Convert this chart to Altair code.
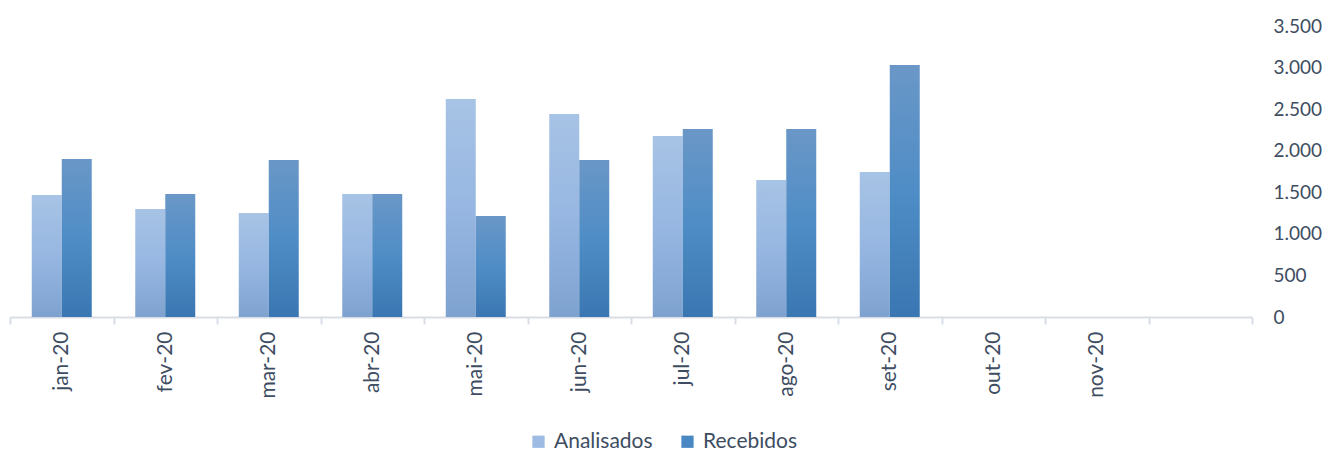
import altair as alt
import pandas as pd

months = ["jan-20", "fev-20", "mar-20", "abr-20", "mai-20", "jun-20",
          "jul-20", "ago-20", "set-20", "out-20", "nov-20", ""]
series = ["Analisados", "Recebidos"]
analisados = [1467, 1299, 1251, 1480, 2622, 2442, 2177, 1648, 1744]
recebidos = [1900, 1479, 1888, 1480, 1215, 1888, 2261, 2261, 3031]
y_ticks = [0, 500, 1000, 1500, 2000, 2500, 3000, 3500]

rows = []
for m, a, r in zip(months, analisados, recebidos):
    rows.append({"month": m, "series": "Analisados", "value": a})
    rows.append({"month": m, "series": "Recebidos", "value": r})
df = pd.DataFrame(rows)

FONT = "Lato"
TXT = "#3e4d62"
AXC = "#d9dee6"

x_enc = alt.X(
    "month:N",
    sort=months,
    scale=alt.Scale(domain=months, paddingInner=0, paddingOuter=0),
    axis=alt.Axis(
        title=None, labelAngle=-90, labelFontSize=21, labelColor=TXT, labelFont=FONT,
        domainColor=AXC, domainWidth=2, tickColor=AXC, tickWidth=2, tickSize=7,
        tickBand="extent", labelPadding=7, grid=False,
    ),
)
xoff_enc = alt.XOffset(
    "series:N",
    scale=alt.Scale(domain=series, paddingInner=0, paddingOuter=0.725),
)
y_enc = alt.Y(
    "value:Q",
    scale=alt.Scale(domain=[0, 3500], nice=False),
    axis=alt.Axis(
        title=None, orient="right", values=y_ticks, ticks=False, domain=False, grid=False,
        labelAlign="left", labelPadding=21, labelFontSize=19, labelColor=TXT, labelFont=FONT,
        labelExpr="replace(format(datum.value, ','), ',', '.')",
    ),
)

base = alt.Chart(df).encode(x=x_enc, xOffset=xoff_enc, y=y_enc)

grad_a = alt.Gradient(
    gradient="linear", x1=0, x2=0, y1=0, y2=1,
    stops=[alt.GradientStop(color="#a7c3e5", offset=0),
           alt.GradientStop(color="#97b7e2", offset=0.5),
           alt.GradientStop(color="#7ea2cf", offset=1)],
)
grad_r = alt.Gradient(
    gradient="linear", x1=0, x2=0, y1=0, y2=1,
    stops=[alt.GradientStop(color="#6a97c7", offset=0),
           alt.GradientStop(color="#4f8dc6", offset=0.5),
           alt.GradientStop(color="#3a77b2", offset=1)],
)

bars_a = base.transform_filter(alt.datum.series == "Analisados").mark_bar(color=grad_a)
bars_r = base.transform_filter(alt.datum.series == "Recebidos").mark_bar(color=grad_r)

legend_layer = base.mark_point(shape="square", filled=True, size=0).encode(
    color=alt.Color(
        "series:N",
        scale=alt.Scale(domain=series, range=["#9dbbe3", "#4a88c4"]),
        legend=alt.Legend(
            title=None, orient="none", direction="horizontal", legendX=518, legendY=405,
            symbolType="square", symbolSize=150, symbolStrokeWidth=0, symbolOpacity=1,
            labelFontSize=21, labelColor=TXT, labelFont=FONT, labelOffset=5,
            columnPadding=24,
        ),
    )
)

chart = alt.layer(bars_a, bars_r, legend_layer).properties(
    width=1242, height=291,
    autosize=alt.AutoSizeParams(type="none"),
    padding={"left": 2, "top": 18, "right": 72, "bottom": 136},
).configure_view(stroke=None)

chart.save("out.html", embed_options={"renderer": "svg", "actions": False})
